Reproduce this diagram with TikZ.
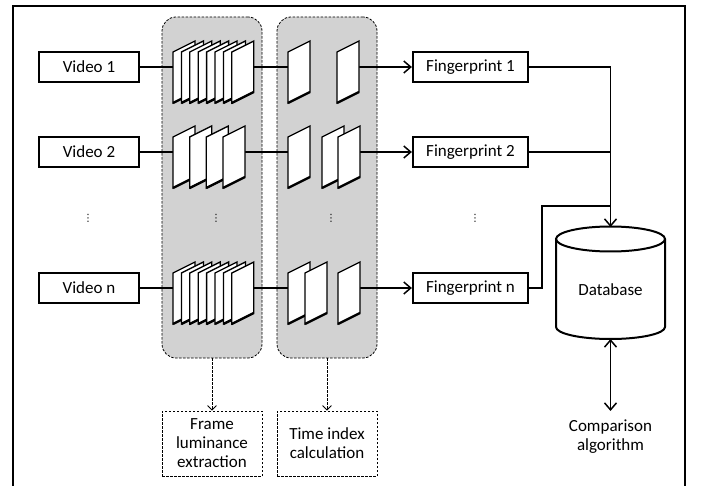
\documentclass[tikz,border=0pt]{standalone}
\usepackage{fontspec}
\setmainfont{Carlito}
\newfontfamily\dvsans{DejaVu Sans}
\usetikzlibrary{arrows.meta}
\begin{document}
\begin{tikzpicture}[x=1pt,y=-1pt,
  font=\fontsize{17}{19}\selectfont,
  solidbox/.style={draw, line width=2.2pt, minimum height=30pt, inner sep=0pt, fill=white},
  panel/.style={draw, dashed, dash pattern=on 2.5pt off 1.5pt, line width=0.8pt, rounded corners=14pt, fill=gray!35, minimum width=100pt, minimum height=341pt, inner sep=0pt},
  notebox/.style={draw, dash pattern=on 2.5pt off 1.5pt, line width=0.8pt, minimum width=100pt, minimum height=65pt, inner sep=0pt, align=center},
  conn/.style={line width=1.4pt},
  arr/.style={line width=1.4pt, -{Straight Barb[length=7pt,width=12pt,line width=1.5pt]}},
  darr/.style={line width=1.4pt, {Straight Barb[length=7pt,width=12pt,line width=1.5pt]}-{Straight Barb[length=7pt,width=12pt,line width=1.5pt]}},
  dasharr/.style={line width=0.8pt, dash pattern=on 2.5pt off 1.5pt, -{Straight Barb[length=4.5pt,width=9pt,line width=0.8pt]}},
  dotsnode/.style={font=\dvsans\fontsize{10}{12}\selectfont, inner sep=0pt},
  vframe/.pic={
    \draw[fill=white, line width=1.3pt, line join=miter] (0,-15) -- (22,-26) -- (22,25) -- (0,36) -- cycle;
    \draw[line width=2.4pt] (0,36) -- (22,25);
  }]
\useasboundingbox (0,0) rectangle (701,486);
\fill[white] (0,0) rectangle (701,486);
% outer border
\draw[line width=1.5pt] (13,490) -- (13,6) -- (685,6) -- (685,490);

% panels
\node[panel] (pan1) at (212,187.5) {};
\node[panel] (pan2) at (327,187.5) {};

% video boxes
\node[solidbox, minimum width=100pt] (v1) at (89,67) {Video 1};
\node[solidbox, minimum width=100pt] (v2) at (89,152) {Video 2};
\node[solidbox, minimum width=100pt] (vn) at (89,288) {Video n};

% fingerprint boxes
\node[solidbox, minimum width=115pt] (fp1) at (470.5,67) {Fingerprint 1};
\node[solidbox, minimum width=115pt] (fp2) at (470.5,152) {Fingerprint 2};
\node[solidbox, minimum width=115pt] (fpn) at (470.5,288) {Fingerprint n};

% dots
\node[dotsnode] (d1) at (88,218) {⋮};
\node[dotsnode] (d2) at (216,218) {⋮};
\node[dotsnode] (d3) at (331,218) {⋮};
\node[dotsnode] (d4) at (475,218) {⋮};

% coordinates for frame stacks
\coordinate (p1r1in) at (173,67);   \coordinate (p1r1out) at (253.8,67);
\coordinate (p2r1in) at (288,67);   \coordinate (p2r1out) at (359,67);
\coordinate (p1r2in) at (173,152);  \coordinate (p1r2out) at (245,152);
\coordinate (p2r2in) at (288,152);  \coordinate (p2r2out) at (360,152);
\coordinate (p1rnin) at (173,288);  \coordinate (p1rnout) at (253.8,288);
\coordinate (p2rnin) at (288,288);  \coordinate (p2rnout) at (360,288);

% connectors along rows
\draw[conn] (v1.east) -- (p1r1in);
\draw[conn] (p1r1out) -- (p2r1in);
\draw[arr] (p2r1out) -- (fp1.west);
\draw[conn] (v2.east) -- (p1r2in);
\draw[conn] (p1r2out) -- (p2r2in);
\draw[arr] (p2r2out) -- (fp2.west);
\draw[conn] (vn.east) -- (p1rnin);
\draw[conn] (p1rnout) -- (p2rnin);
\draw[arr] (p2rnout) -- (fpn.west);

% frames row 1
\foreach \k in {0,...,7} { \pic at ({173+8.4*\k},67) {vframe}; }
\pic at (288,67) {vframe};
\pic at (337,67) {vframe};
% frames row 2
\foreach \xx in {173,189.7,206.3,223} { \pic at (\xx,152) {vframe}; }
\foreach \xx in {288,322,338} { \pic at (\xx,152) {vframe}; }
% frames row n
\foreach \k in {0,...,7} { \pic at ({173+8.4*\k},288) {vframe}; }
\foreach \xx in {288,305,338} { \pic at (\xx,288) {vframe}; }

% database
\draw[line width=2pt, fill=white] (556,239) -- (556,327) arc[start angle=180, end angle=0, x radius=54.5, y radius=12] -- (665,239);
\draw[line width=2pt] (610.5,239) ellipse[x radius=54.5, y radius=12.5];
\node[inner sep=0pt] (db) at (610.5,290) {Database};
\coordinate (dbtop) at (610.5,227);
\coordinate (dbbot) at (610.5,339);
\coordinate (jn) at (610.5,206);
\coordinate (kn) at (542,206);

\draw[arr] (fp1.east) -| (dbtop);
\draw[conn] (fp2.east) -- (fp2.east -| dbtop);
\draw[conn] (fpn.east) -| (kn) -- (jn);

% comparison
\node[align=center, inner sep=0pt] (cmp) at (610.5,437) {Comparison\\algorithm};
\draw[darr] (dbbot) -- ([yshift=9pt]cmp.north);

% bottom notes
\node[notebox] (fle) at (212,443.5) {Frame\\luminance\\extraction};
\node[notebox] (tic) at (327,443.5) {Time index\\calculation};
\draw[dasharr] (pan1.south) -- (fle.north);
\draw[dasharr] (pan2.south) -- (tic.north);
\end{tikzpicture}
\end{document}
